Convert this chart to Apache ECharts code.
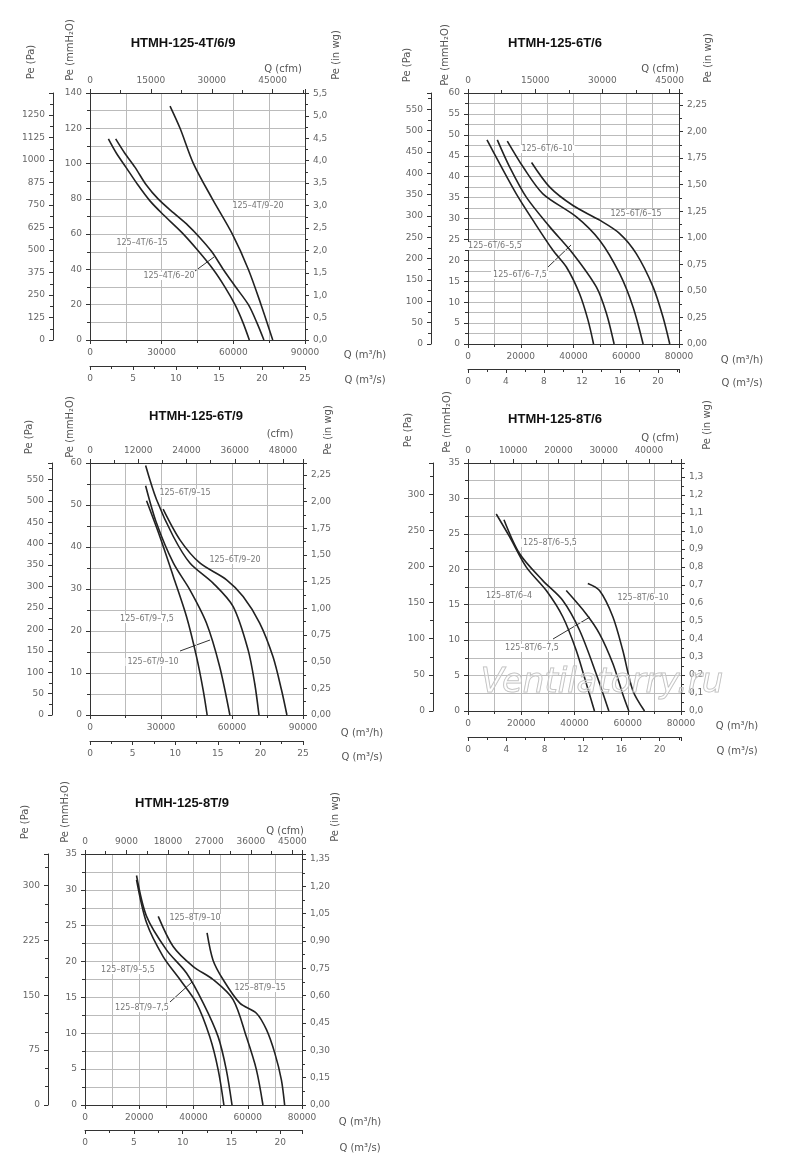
<!DOCTYPE html>
<html>
<head>
<meta charset="UTF-8">
<title>HTMH-125</title>
<script src="https://cdn.jsdelivr.net/npm/echarts@6/dist/echarts.min.js"></script>
<style>body{margin:0;background:#fff}</style>
</head>
<body>
<div id="box" style="width:800px;height:1170px;"></div>
<script type="text/javascript">
// curves: [Q m3/h, Pe mmH2O]
var p1_6_15 = [[7700,114],[11000,106],[15000,98],[20000,88],[25000,79],[30700,71],[38400,61],[45000,51],[51600,40],[56500,30],[60700,20],[64000,10],[66700,0]];
var p1_6_20 = [[10750,114],[14500,106],[18800,98],[23500,88],[28500,80],[35000,72],[41000,65],[46000,58],[51000,50],[55800,40],[61000,30],[66300,20],[69800,10],[72800,0]];
var p1_9_20 = [[33500,132.6],[37700,120],[43300,100],[51200,80],[59600,60],[66300,40],[71600,20],[76500,0]];

var p2_55 = [[7200,48.8],[12000,43.1],[18300,35.9],[24600,29.6],[32200,22.4],[37300,18.4],[42300,12.0],[45500,5.7],[47600,0]];
var p2_75 = [[11100,48.8],[15800,42.3],[22100,35.1],[31000,28],[39800,21.6],[48700,13.6],[52500,7.3],[55400,0]];
var p2_10 = [[14900,48.5],[20900,42.3],[28400,35.9],[41100,30.4],[49900,24.8],[57500,16.8],[62600,8.8],[66400,0]];
var p2_15 = [[24100,43.4],[31000,37.5],[39800,33.1],[49900,29.6],[57500,26.4],[63800,21.6],[70200,13.6],[73900,6.5],[76500,0]];

var p3_75 = [[23900,51],[29500,42.5],[35200,33],[40800,23.4],[45000,13.9],[47800,6.0],[49500,0]];
var p3_10 = [[23500,54.6],[28100,45.7],[35200,36.2],[42200,29.8],[49200,21.9],[54800,11.5],[59100,0]];
var p3_15 = [[23500,59.4],[28100,51.3],[35200,42.5],[42200,36.2],[52000,31.4],[60500,25.8],[66800,15.5],[69600,7.5],[71400,0]];
var p3_20 = [[30900,49],[38000,41.7],[46400,36.2],[57700,32.2],[64700,28.2],[71700,21.9],[77300,13.9],[80900,6.0],[83200,0]];

var p4_4 = [[10600,27.8],[15600,24.6],[21900,20.3],[29400,17.0],[35600,13.3],[40600,8.6],[44400,3.9],[47500,0]];
var p4_55 = [[13500,27.0],[19400,22.2],[28100,18.4],[35600,15.6],[41900,11.4],[48100,5.3],[52900,0]];
var p4_75 = [[36900,17.0],[44400,13.7],[49400,10.9],[54400,6.7],[58100,2.4],[60400,0]];
var p4_10 = [[45000,18.0],[49400,17.0],[54400,13.3],[58100,8.6],[61900,2.9],[66300,0]];

var p5_55 = [[19000,31.4],[22700,25.4],[28800,20.7],[35000,17.5],[41100,14.2],[46000,9.5],[49100,4.9],[51200,0]];
var p5_75 = [[19000,32.0],[22700,26.3],[30100,21.6],[37400,18.4],[43600,14.2],[49100,9.5],[52100,4.9],[54200,0]];
var p5_10 = [[27000,26.3],[32500,22.1],[39900,19.3],[47200,17.5],[54600,14.7],[59500,9.5],[63200,4.9],[65600,0]];
var p5_15 = [[45000,24.0],[47200,20.2],[50900,17.5],[57100,14.2],[63200,12.8],[66900,10.5],[70000,7.2],[72400,3.5],[73600,0]];

var panels = [
  {title:'HTMH-125-4T/6/9', g:[90,93,215,247], paOff:37, msOff:26,
   qMax:90000, qInt:30000, mmMax:140, mmInt:20, paInt:125, paMinor:2, wgInt:0.5, wgDec:1,
   cfmInt:15000, msInt:5, curves:[p1_6_15,p1_6_20,p1_9_20]},
  {title:'HTMH-125-6T/6', g:[468,93,211,251], paOff:37, msOff:25,
   qMax:80000, qInt:20000, mmMax:60, mmInt:5, paInt:50, paMinor:2, wgInt:0.25, wgDec:2,
   cfmInt:15000, msInt:4, curves:[p2_55,p2_75,p2_10,p2_15]},
  {title:'HTMH-125-6T/9', g:[90,463,213,252], paOff:38, msOff:26,
   qMax:90000, qInt:30000, mmMax:60, mmInt:10, paInt:50, paMinor:2, wgInt:0.25, wgDec:2,
   cfmInt:12000, msInt:5, curves:[p3_75,p3_10,p3_15,p3_20]},
  {title:'HTMH-125-8T/6', g:[468,463,213,248], paOff:35, msOff:26,
   qMax:80000, qInt:20000, mmMax:35, mmInt:5, paInt:50, paMinor:2, wgInt:0.1, wgDec:1,
   cfmInt:10000, msInt:4, curves:[p4_4,p4_55,p4_75,p4_10]},
  {title:'HTMH-125-8T/9', g:[85,854,217,251], paOff:37, msOff:25,
   qMax:80000, qInt:20000, mmMax:35, mmInt:5, paInt:75, paMinor:3, wgInt:0.15, wgDec:2,
   cfmInt:9000, msInt:5, curves:[p5_55,p5_75,p5_10,p5_15]}
];

// name positions per panel: Pa, mmH2O, in wg, cfm, m3/h, m3/s
var names = [
  [[31,62],[70,50],[336,55],[283,69],[365,355],[365,380]],
  [[407,65],[445,55],[708,58],[660,69],[742,360],[742,383]],
  [[29,437],[70,427],[328,430],[280,434],[362,733],[362,757]],
  [[408,430],[447,422],[707,425],[660,438],[737,726],[737,751]],
  [[25,822],[65,812],[335,817],[285,831],[360,1122],[360,1148]]
];
var titlePos = [[183,43],[555,43],[196,416],[555,419],[182,803]];

var curveLabels = [
  [['125–4T/9–20',258,206],['125–4T/6–15',142,243],['125–4T/6–20',169,276]],
  [['125–6T/6–10',547,149],['125–6T/6–15',636,214],['125–6T/6–5,5',495,246],['125–6T/6–7,5',520,275]],
  [['125–6T/9–15',185,493],['125–6T/9–20',235,560],['125–6T/9–7,5',147,619],['125–6T/9–10',153,662]],
  [['125–8T/6–5,5',550,543],['125–8T/6–4',509,596],['125–8T/6–10',643,598],['125–8T/6–7,5',532,648]],
  [['125–8T/9–10',195,918],['125–8T/9–5,5',128,970],['125–8T/9–15',260,988],['125–8T/9–7,5',142,1008]]
];
var leaders = [[195,271,214,257],[548,267,571,245],[180,651,210,640],[553,639,590,617],[170,1002,192,982]];

var FONT = 'DejaVu Sans';
var plain = function(v){ return String(Math.round(v)); };
var lab = {color:'#666', fontSize:9, fontFamily:FONT, formatter:plain};
var lineC = {onZero:false, lineStyle:{color:'#333', width:1}};

var grids=[], xAxes=[], yAxes=[], series=[], graphic=[];

function fmtDec(d){ return function(v){ return v.toFixed(d).replace('.', ','); }; }
function L(extra){ return Object.assign({}, lab, extra || {}); }

panels.forEach(function(p, i){
  grids.push({left:p.g[0], top:p.g[1], width:p.g[2], height:p.g[3]});
  var xi = xAxes.length, yi = yAxes.length;
  var paMax = p.mmMax*9.80665, wgMax = p.mmMax/25.4, cfmMax = p.qMax/1.699, msMax = p.qMax/3600;
  // m3/h
  xAxes.push({type:'value', gridIndex:i, position:'bottom', min:0, max:p.qMax, interval:p.qInt,
    axisLine:lineC, axisTick:{length:4}, minorTick:{show:true, splitNumber:2, length:3},
    splitLine:{show:true, lineStyle:{color:'#bbb'}}, minorSplitLine:{show:true, lineStyle:{color:'#bbb'}},
    axisLabel:L()});
  // cfm
  xAxes.push({type:'value', gridIndex:i, position:'top', min:0, max:cfmMax, interval:p.cfmInt,
    axisLine:lineC, axisTick:{length:4}, minorTick:{show:true, splitNumber:2, length:3},
    splitLine:{show:false}, axisLabel:L({showMaxLabel:false})});
  // m3/s
  xAxes.push({type:'value', gridIndex:i, position:'bottom', offset:p.msOff, min:0, max:msMax, interval:p.msInt,
    axisLine:lineC, axisTick:{length:4}, minorTick:{show:true, splitNumber:2, length:3},
    splitLine:{show:false}, axisLabel:L({showMaxLabel:msMax % p.msInt < 0.01})});
  // mmH2O
  yAxes.push({type:'value', gridIndex:i, position:'left', min:0, max:p.mmMax, interval:p.mmInt,
    axisLine:lineC, axisTick:{length:4}, minorTick:{show:true, splitNumber:2, length:3},
    splitLine:{show:true, lineStyle:{color:'#bbb'}}, minorSplitLine:{show:true, lineStyle:{color:'#bbb'}},
    axisLabel:L()});
  // Pa
  yAxes.push({type:'value', gridIndex:i, position:'left', offset:p.paOff, min:0, max:paMax, interval:p.paInt,
    axisLine:lineC, axisTick:{length:4}, minorTick:{show:true, splitNumber:p.paMinor, length:3},
    splitLine:{show:false}, axisLabel:L({showMaxLabel:false})});
  // in wg
  yAxes.push({type:'value', gridIndex:i, position:'right', min:0, max:wgMax, interval:p.wgInt,
    axisLine:lineC, axisTick:{length:4}, minorTick:{show:true, splitNumber:2, length:3},
    splitLine:{show:false}, axisLabel:L({showMaxLabel:false, formatter:fmtDec(p.wgDec)})});

  p.curves.forEach(function(c){
    series.push({type:'line', xAxisIndex:xi, yAxisIndex:yi, data:c, smooth:0.3, symbol:'none',
      lineStyle:{color:'#222', width:1.6}, silent:true});
  });

  graphic.push({type:'text', x:titlePos[i][0], y:titlePos[i][1],
    style:{text:p.title, font:'bold 13px "Liberation Sans"', fill:'#111', align:'center', verticalAlign:'middle'}});
  var n = names[i];
  var nameStyle = {font:'10px ' + FONT, fill:'#555', align:'center', verticalAlign:'middle'};
  [['Pe (Pa)',0],['Pe (mmH₂O)',1],['Pe (in wg)',2]].forEach(function(t){
    graphic.push({type:'text', x:n[t[1]][0], y:n[t[1]][1], rotation:Math.PI/2,
      style:Object.assign({text:t[0]}, nameStyle)});
  });
  graphic.push({type:'text', x:n[3][0], y:n[3][1], style:Object.assign({text:i==2?'(cfm)':'Q (cfm)'}, nameStyle)});
  graphic.push({type:'text', x:n[4][0], y:n[4][1], style:Object.assign({text:'Q (m³/h)'}, nameStyle)});
  graphic.push({type:'text', x:n[5][0], y:n[5][1], style:Object.assign({text:'Q (m³/s)'}, nameStyle)});

  curveLabels[i].forEach(function(l){
    graphic.push({type:'text', x:l[1], y:l[2], z:10,
      style:{text:l[0], font:'8px ' + FONT, fill:'#777', align:'center', verticalAlign:'middle',
        backgroundColor:'#fff', padding:[0,2]}});
  });
  var ld = leaders[i];
  graphic.push({type:'line', shape:{x1:ld[0], y1:ld[1], x2:ld[2], y2:ld[3]}, style:{stroke:'#333', lineWidth:1}});
});

graphic.push({type:'text', x:602, y:683, z:20,
  style:{text:'Ventilatorry.ru', font:'italic 34px "DejaVu Sans"', fill:'rgba(255,255,255,0.3)',
    stroke:'#bbb', lineWidth:1, align:'center', verticalAlign:'middle'}});

var mychart = echarts.init(document.getElementById('box'));
mychart.setOption({
  animation:false,
  grid:grids, xAxis:xAxes, yAxis:yAxes, series:series, graphic:graphic
});
</script>
</body>
</html>
